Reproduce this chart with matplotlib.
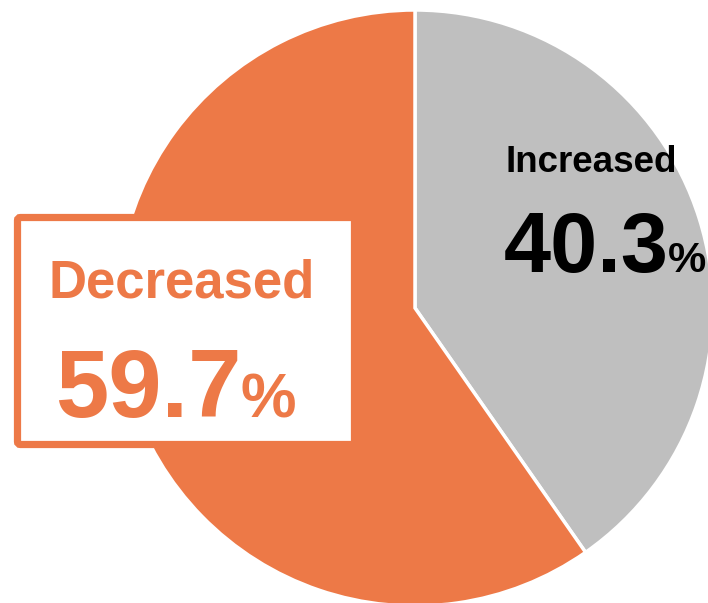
import matplotlib
matplotlib.use("Agg")
import matplotlib.pyplot as plt
from matplotlib.patches import FancyBboxPatch

labels = ["Increased", "Decreased"]
values = [40.3, 59.7]
colors = ["#BFBFBF", "#ED7947"]
pct_texts = ["40.3", "59.7"]

W, H = 708, 603
fig = plt.figure(figsize=(W / 100, H / 100), dpi=100)
ax = fig.add_axes([0, 0, 1, 1])

ax.pie(values, colors=colors, startangle=90, counterclock=False,
       center=(415, H - 308), radius=298, frame=True,
       wedgeprops=dict(edgecolor="white", linewidth=2.5))
ax.set_xlim(0, W)
ax.set_ylim(0, H)
ax.set_aspect("auto")
ax.axis("off")

font = "Liberation Sans"

# Decreased box
box = FancyBboxPatch((17.5, H - 444.5), 337, 227, boxstyle="round,pad=0,rounding_size=3",
                     facecolor="white", edgecolor=colors[1], linewidth=5.2, zorder=3)
ax.add_patch(box)

ax.text(49, H - 297, labels[1], fontfamily=font, fontweight="bold", fontsize=38,
        color=colors[1], ha="left", va="baseline", zorder=4)
ax.text(55, H - 417, pct_texts[1], fontfamily=font, fontweight="bold", fontsize=69,
        color=colors[1], ha="left", va="baseline", zorder=4)
ax.text(240, H - 417, "%", fontfamily=font, fontweight="bold", fontsize=45,
        color=colors[1], ha="left", va="baseline", zorder=4)

# Increased label
ax.text(505, H - 172, labels[0], fontfamily=font, fontweight="bold", fontsize=26.5,
        color="black", ha="left", va="baseline", zorder=4)
ax.text(504, H - 272, pct_texts[0], fontfamily=font, fontweight="bold", fontsize=61,
        color="black", ha="left", va="baseline", zorder=4)
ax.text(668, H - 272, "%", fontfamily=font, fontweight="bold", fontsize=31,
        color="black", ha="left", va="baseline", zorder=4)

fig.savefig("out.png", dpi=100)
